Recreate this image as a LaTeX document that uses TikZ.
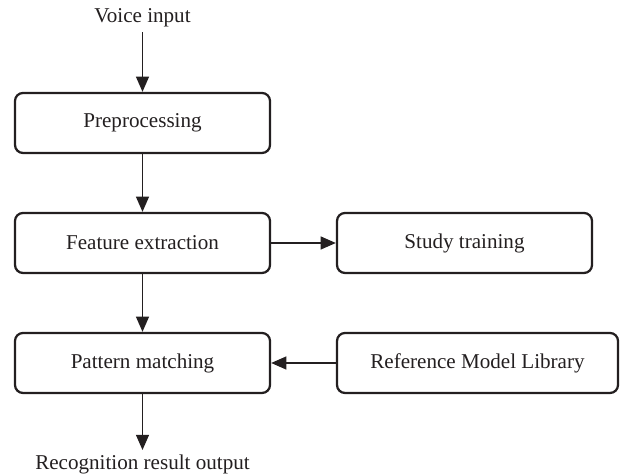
\documentclass[tikz,border=0pt]{standalone}
\usepackage{fontspec}
\setmainfont{Liberation Serif}
\usetikzlibrary{arrows.meta}
\definecolor{ink}{HTML}{231F20}
\begin{document}
\begin{tikzpicture}[
  font=\fontsize{15}{18}\selectfont, color=ink,
  stage/.style={draw=ink, line width=1.6pt, rounded corners=0.2cm, minimum width=6.375cm, minimum height=1.5cm, align=center},
  flow/.style={draw=ink, -{Triangle[length=0.38cm,width=0.32cm]}, line width=1.3pt}
]
\useasboundingbox (0,0) rectangle (15.5,11.875);
\node (in) at (3.5625,11.425) {Voice input};
\node[stage] (pre) at (3.5625,8.8) {Preprocessing};
\node[stage] (fe) at (3.5625,5.8) {Feature extraction};
\node[stage] (st) at (11.6125,5.8) {Study training};
\node[stage] (pm) at (3.5625,2.8) {Pattern matching};
\node[stage, minimum width=7.025cm] (lib) at (11.9375,2.8) {Reference Model Library};
\node (out) at (3.5625,0.26) {Recognition result output};
\draw[flow] (in) -- (pre);
\draw[flow] (pre) -- (fe);
\draw[flow] (fe) -- (st);
\draw[flow] (fe) -- (pm);
\draw[flow] (lib) -- (pm);
\draw[flow] (pm) -- (out);
\end{tikzpicture}
\end{document}
